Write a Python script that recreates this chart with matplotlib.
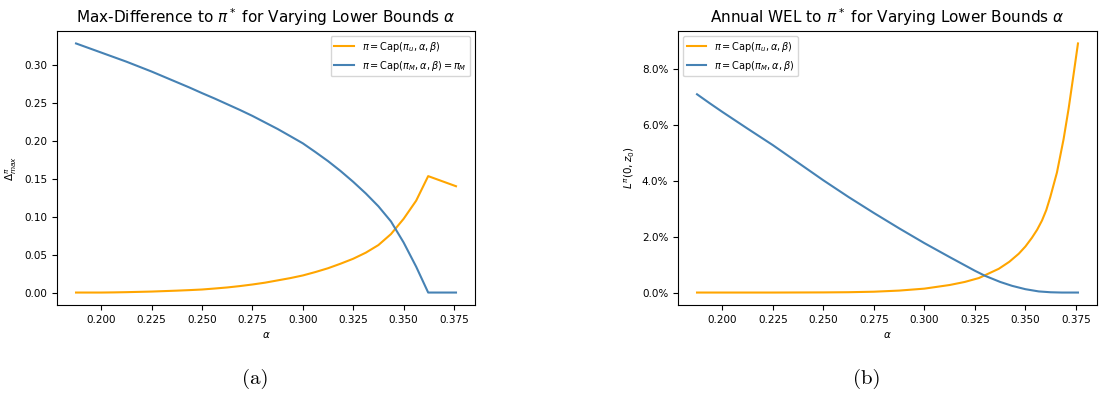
import matplotlib
matplotlib.use("Agg")
from matplotlib import pyplot as plt
from matplotlib.ticker import PercentFormatter
import numpy as np

# --- panel (a): max difference to pi* ---
alpha_a = [0.1875, 0.19375, 0.200, 0.20625, 0.2125, 0.21875, 0.225, 0.23125,
           0.2375, 0.24375, 0.250, 0.25625, 0.2625, 0.26875, 0.275, 0.28125,
           0.2875, 0.29375, 0.300, 0.30625, 0.3125, 0.31875, 0.325, 0.33125,
           0.3375, 0.34375, 0.350, 0.35625, 0.3622, 0.376]
# capped unconstrained strategy
diff_u = [0.0, 0.0, 0.0, 0.0002, 0.0005, 0.0009, 0.0013, 0.0019,
          0.0025, 0.0032, 0.004, 0.0053, 0.0067, 0.0085, 0.0106, 0.013,
          0.016, 0.019, 0.0225, 0.027, 0.032, 0.038, 0.0445, 0.0525,
          0.0625, 0.077, 0.097, 0.121, 0.1533, 0.140]
# capped Merton strategy
diff_m = [0.328, 0.322, 0.316, 0.310, 0.304, 0.2975, 0.291, 0.284,
          0.277, 0.270, 0.2626, 0.2555, 0.248, 0.2405, 0.2326, 0.224,
          0.2154, 0.206, 0.1965, 0.185, 0.1731, 0.160, 0.1458, 0.1305,
          0.1136, 0.0936, 0.066, 0.034, 0.0, 0.0]

# --- panel (b): annual WEL (in percent) ---
alpha_wu = [0.1875, 0.200, 0.225, 0.250, 0.2625, 0.275, 0.2875, 0.300,
            0.3125, 0.320, 0.327, 0.3368, 0.3420, 0.3467, 0.3500, 0.3532,
            0.3558, 0.3582, 0.3603, 0.3623, 0.3656, 0.3689, 0.3714, 0.3738,
            0.376]
wel_u = [0.0, 0.0, 0.0, 0.005, 0.012, 0.03, 0.07, 0.14,
         0.27, 0.38, 0.52, 0.85, 1.10, 1.39, 1.65, 1.96,
         2.25, 2.58, 2.95, 3.42, 4.3, 5.5, 6.6, 7.8,
         8.92]

alpha_wm = [0.1875, 0.19375, 0.200, 0.2125, 0.225, 0.2375, 0.250, 0.2625,
            0.275, 0.2875, 0.300, 0.3125, 0.325, 0.330, 0.3375, 0.3434,
            0.350, 0.3566, 0.3625, 0.368, 0.376]
wel_m = [7.10, 6.78, 6.47, 5.87, 5.28, 4.65, 4.02, 3.42,
         2.85, 2.30, 1.77, 1.27, 0.78, 0.60, 0.38, 0.24,
         0.12, 0.04, 0.01, 0.0, 0.0]

c_u = "orange"
c_m = "steelblue"
xt = np.arange(0.200, 0.3751, 0.025)

fig = plt.figure(figsize=(10.99, 4.01), dpi=100)
ax1 = fig.add_axes([0.0519, 0.2394, 0.3803, 0.6833])
ax2 = fig.add_axes([0.6169, 0.2394, 0.3813, 0.6833])

ax1.plot(alpha_a, diff_u, color=c_u, lw=1.5,
         label=r"$\pi = \mathrm{Cap}(\pi_u,\alpha,\beta)$")
ax1.plot(alpha_a, diff_m, color=c_m, lw=1.5,
         label=r"$\pi = \mathrm{Cap}(\pi_M,\alpha,\beta) = \pi_M$")
ax1.set_title(r"Max-Difference to $\pi^*$ for Varying Lower Bounds $\alpha$",
              fontsize=11, pad=6)
ax1.set_xlabel(r"$\alpha$", fontsize=7.5)
ax1.set_ylabel(r"$\Delta^\pi_{max}$", fontsize=7.5)
ax1.set_xticks(xt)
ax1.legend(loc="upper right", fontsize=7)

ax2.plot(alpha_wu, wel_u, color=c_u, lw=1.5,
         label=r"$\pi = \mathrm{Cap}(\pi_u,\alpha,\beta)$")
ax2.plot(alpha_wm, wel_m, color=c_m, lw=1.5,
         label=r"$\pi = \mathrm{Cap}(\pi_M,\alpha,\beta)$")
ax2.set_title(r"Annual WEL to $\pi^*$ for Varying Lower Bounds $\alpha$",
              fontsize=11, pad=6)
ax2.set_xlabel(r"$\alpha$", fontsize=7.5)
ax2.set_ylabel(r"$L^\pi(0,z_0)$", fontsize=7.5)
ax2.set_xticks(xt)
ax2.set_yticks([0, 2, 4, 6, 8])
ax2.yaxis.set_major_formatter(PercentFormatter(xmax=100, decimals=1))
ax2.legend(loc="upper left", fontsize=7)

for ax in (ax1, ax2):
    ax.tick_params(labelsize=7.5)

fig.text(0.232, 0.055, "(a)", fontname="cmr10", fontsize=15, ha="center", va="center")
fig.text(0.789, 0.055, "(b)", fontname="cmr10", fontsize=15, ha="center", va="center")

fig.savefig("out.png", dpi=100)
